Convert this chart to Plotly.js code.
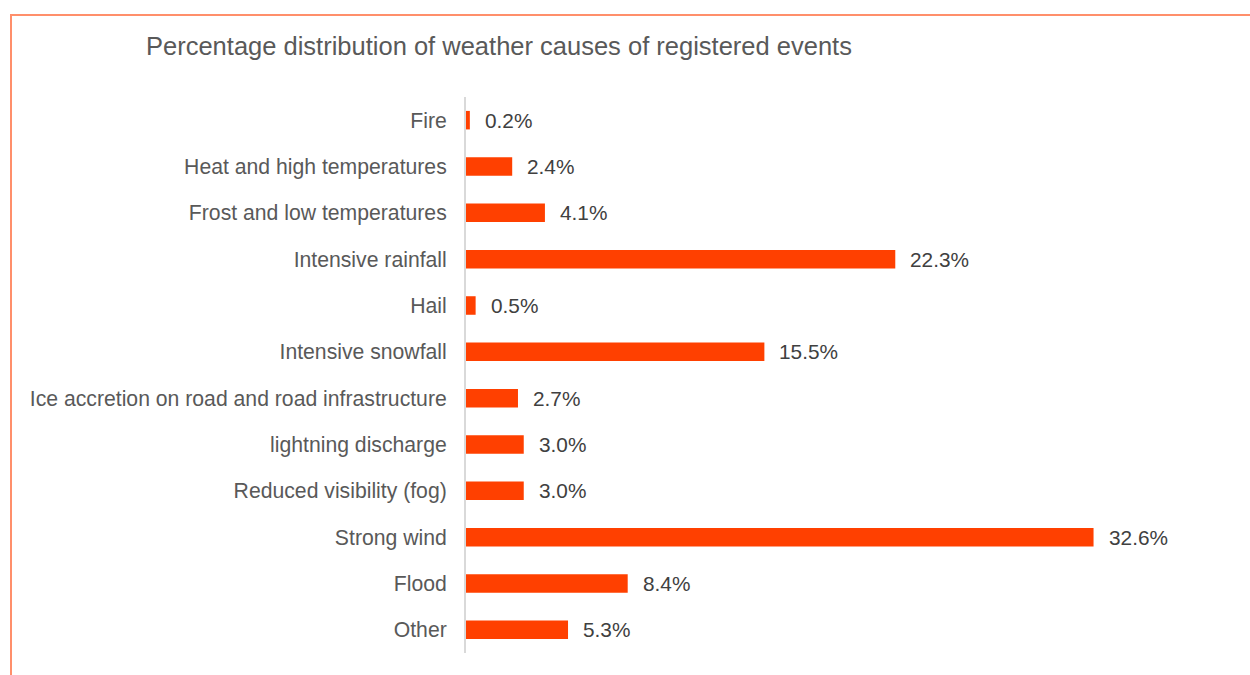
<!DOCTYPE html>
<html>
<head>
<meta charset="utf-8">
<script src="https://cdn.plot.ly/plotly-3.0.1.min.js"></script>
<style>
  html, body { margin: 0; padding: 0; width: 1250px; height: 675px; overflow: hidden; background: #fff; }
  #frame { position: absolute; left: 10px; top: 14px; width: 1260px; height: 700px; border: 2px solid #FF8F6B; box-sizing: border-box; }
  #chart { position: absolute; left: 0; top: 0; width: 1250px; height: 675px; }
</style>
</head>
<body>
<div id="frame"></div>
<div id="chart"></div>
<script>
const categories = [
  "Fire",
  "Heat and high temperatures",
  "Frost and low temperatures",
  "Intensive rainfall",
  "Hail",
  "Intensive snowfall",
  "Ice accretion on road and road infrastructure",
  "lightning discharge",
  "Reduced visibility (fog)",
  "Strong wind",
  "Flood",
  "Other"
];
const values = [0.2, 2.4, 4.1, 22.3, 0.5, 15.5, 2.7, 3.0, 3.0, 32.6, 8.4, 5.3];
const valueLabels = ["0.2%", "2.4%", "4.1%", "22.3%", "0.5%", "15.5%", "2.7%", "3.0%", "3.0%", "32.6%", "8.4%", "5.3%"];

const font = "Liberation Sans, Arial, sans-serif";

const trace = {
  type: "bar",
  orientation: "h",
  x: values,
  y: categories,
  marker: { color: "#FF4000" },
  hoverinfo: "none"
};

const annotations = values.map((v, i) => ({
  x: v, y: categories[i], xref: "x", yref: "y",
  text: valueLabels[i], showarrow: false,
  xanchor: "left", yanchor: "middle", xshift: 13,
  font: { family: font, size: 20.8, color: "#404040" }
}));

const layout = {
  width: 1250, height: 675,
  paper_bgcolor: "rgba(0,0,0,0)",
  plot_bgcolor: "rgba(0,0,0,0)",
  margin: { l: 466, r: 14, t: 97, b: 22 },
  bargap: 0.6,
  showlegend: false,
  title: {
    text: "Percentage distribution of weather causes of registered events",
    xref: "container", yref: "container",
    x: 146 / 1250, xanchor: "left",
    y: 1 - 46 / 675, yanchor: "middle",
    font: { family: font, size: 25.5, color: "#595959" }
  },
  xaxis: {
    range: [0, 40],
    visible: false,
    fixedrange: true
  },
  yaxis: {
    type: "category",
    autorange: "reversed",
    showline: true, linecolor: "#D9D9D9", linewidth: 2,
    ticks: "", ticklabelstandoff: 13,
    showgrid: false, zeroline: false,
    tickfont: { family: font, size: 21.2, color: "#595959" },
    fixedrange: true
  },
  annotations: annotations
};

Plotly.newPlot("chart", [trace], layout, { displayModeBar: false, staticPlot: true });
</script>
</body>
</html>
